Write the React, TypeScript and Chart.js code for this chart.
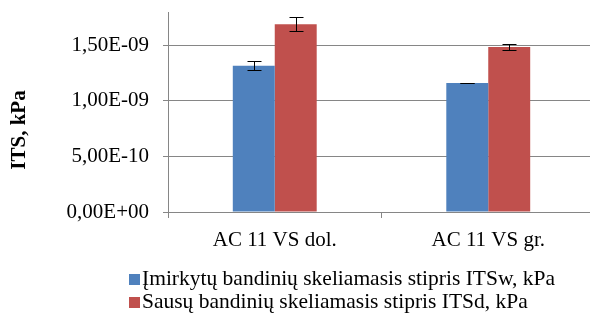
import React, { useEffect, useRef } from 'react';
import { Chart, registerables } from 'chart.js';

Chart.register(...registerables);

const categories = ['AC 11 VS dol.', 'AC 11 VS gr.'];
const seriesNames = [
  'Įmirkytų bandinių skeliamasis stipris ITSw, kPa',
  'Sausų bandinių skeliamasis stipris ITSd, kPa',
];
const seriesColors = ['#4F81BD', '#C0504D'];
const soakedValues = [1.317e-9, 1.161e-9];
const soakedErrors = [0.039e-9, 0.004e-9];
const dryValues = [1.69e-9, 1.484e-9];
const dryErrors = [0.064e-9, 0.028e-9];
const yTicks = [0, 5e-10, 1e-9, 1.5e-9];
const yMax = 1.8e-9;
const yTitle = 'ITS, kPa';

const FONT = '"Liberation Serif", "Times New Roman", serif';
const FS = 21;

function fmtSci(v: number): string {
  if (Math.abs(v) < 1e-30) return '0,00E+00';
  let exp = Math.floor(Math.log10(Math.abs(v)) + 1e-9);
  let m = (v / Math.pow(10, exp)).toFixed(2);
  if (parseFloat(m) >= 10) {
    exp += 1;
    m = (v / Math.pow(10, exp)).toFixed(2);
  }
  const sign = exp < 0 ? '-' : '+';
  return m.replace('.', ',') + 'E' + sign + String(Math.abs(exp)).padStart(2, '0');
}

const errorBarPlugin = {
  id: 'errorBars',
  afterDatasetsDraw(chart: any) {
    const ctx = chart.ctx;
    const yScale = chart.scales.y;
    const errs = [soakedErrors, dryErrors];
    chart.data.datasets.forEach((ds: any, di: number) => {
      const meta = chart.getDatasetMeta(di);
      meta.data.forEach((bar: any, i: number) => {
        const v = ds.data[i] as number;
        const e = errs[di][i];
        const x = Math.round(bar.x) + 0.5;
        const yTop = Math.round(yScale.getPixelForValue(v + e)) + 0.5;
        const yBot = Math.round(yScale.getPixelForValue(v - e)) + 0.5;
        ctx.save();
        ctx.strokeStyle = '#000';
        ctx.lineWidth = 1;
        ctx.beginPath();
        ctx.moveTo(x, yTop);
        ctx.lineTo(x, yBot);
        ctx.moveTo(x - 7, yTop);
        ctx.lineTo(x + 7, yTop);
        ctx.moveTo(x - 7, yBot);
        ctx.lineTo(x + 7, yBot);
        ctx.stroke();
        ctx.restore();
      });
    });
  },
};

const extrasPlugin = {
  id: 'extras',
  afterDraw(chart: any) {
    const ctx = chart.ctx;
    const area = chart.chartArea;
    ctx.save();
    // Y axis title
    ctx.font = `bold ${FS}px ${FONT}`;
    ctx.fillStyle = '#000';
    ctx.textAlign = 'center';
    ctx.textBaseline = 'middle';
    ctx.translate(20, 130);
    ctx.rotate(-Math.PI / 2);
    ctx.fillText(yTitle, 0, 0);
    ctx.restore();

    // Legend
    ctx.save();
    ctx.font = `21.5px ${FONT}`;
    ctx.textAlign = 'left';
    ctx.textBaseline = 'middle';
    const rowsY = [area.bottom + 67, area.bottom + 90];
    chart.data.datasets.forEach((ds: any, i: number) => {
      const y = rowsY[i];
      ctx.fillStyle = ds.backgroundColor;
      ctx.fillRect(129, y - 5, 11, 11);
      ctx.fillStyle = '#000';
      ctx.fillText(ds.label, 142, y);
    });
    ctx.restore();
  },
};

export default function App() {
  const ref = useRef<HTMLCanvasElement | null>(null);

  useEffect(() => {
    if (!ref.current) return;
    const chart = new Chart(ref.current, {
      type: 'bar',
      data: {
        labels: categories,
        datasets: [
          {
            label: seriesNames[0],
            data: soakedValues,
            backgroundColor: seriesColors[0],
            borderWidth: 0,
            categoryPercentage: 0.393,
            barPercentage: 1,
          },
          {
            label: seriesNames[1],
            data: dryValues,
            backgroundColor: seriesColors[1],
            borderWidth: 0,
            categoryPercentage: 0.393,
            barPercentage: 1,
          },
        ],
      },
      options: {
        animation: false,
        responsive: false,
        devicePixelRatio: 1,
        layout: { padding: { left: 0, top: 12, right: 5, bottom: 65 } },
        plugins: {
          legend: { display: false },
          tooltip: { enabled: false },
        },
        scales: {
          x: {
            afterFit: (s: any) => {
              s.height = 45;
              s.paddingLeft = 0;
              s.paddingRight = 0;
            },
            grid: {
              display: true,
              drawOnChartArea: false,
              drawTicks: true,
              tickLength: 6,
              color: '#868686',
            },
            border: { display: true, color: '#868686', width: 1 },
            ticks: {
              color: '#000',
              padding: 10,
              font: { family: FONT, size: FS },
            },
          },
          y: {
            min: 0,
            max: yMax,
            afterFit: (s: any) => {
              s.width = 168;
              s.paddingTop = 0;
              s.paddingBottom = 0;
            },
            afterBuildTicks: (s: any) => {
              s.ticks = yTicks.map((v) => ({ value: v }));
            },
            grid: {
              color: '#868686',
              drawTicks: true,
              tickLength: 5,
            },
            border: { display: true, color: '#868686', width: 1 },
            ticks: {
              color: '#000',
              padding: 14,
              font: { family: FONT, size: FS },
              callback: (v: any) => fmtSci(Number(v)),
            },
            title: { display: false },
          },
        },
      },
      plugins: [errorBarPlugin, extrasPlugin],
    });
    return () => chart.destroy();
  }, []);

  return (
    <div
      style={{
        position: 'absolute',
        left: 0,
        top: 0,
        width: 590,
        height: 322,
        overflow: 'hidden',
        background: '#fff',
      }}
    >
      <canvas ref={ref} width={600} height={322} style={{ display: 'block' }} />
    </div>
  );
}
